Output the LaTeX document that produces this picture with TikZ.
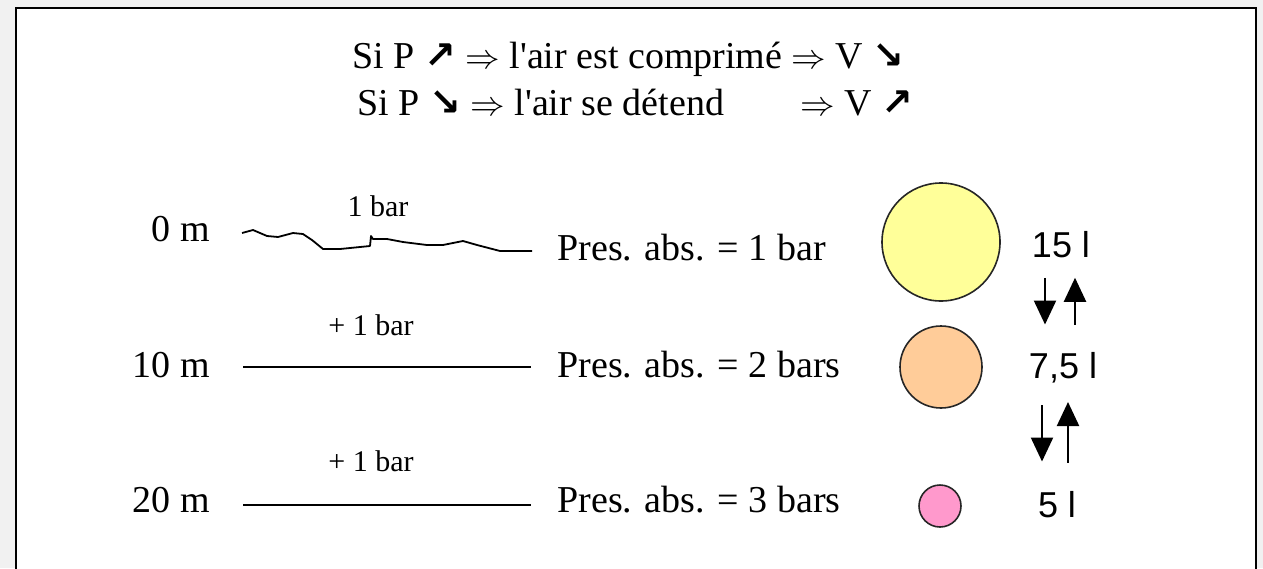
\documentclass[tikz,border=0pt]{standalone}
\usepackage{fontspec}
\setmainfont{Liberation Serif}
\setsansfont{Liberation Sans}
\newfontfamily\arrowfont{DejaVu Sans}
\usepackage{tikz}
\usetikzlibrary{arrows.meta, calc}

\definecolor{pagegray}{HTML}{F1F1F1}
\definecolor{bubyellow}{HTML}{FFFF99}
\definecolor{buborange}{HTML}{FFCC99}
\definecolor{bubpink}{HTML}{FF99CC}

\newcommand{\up}{{\arrowfont\bfseries ↗}}
\newcommand{\down}{{\arrowfont\bfseries ↘}}
\newcommand{\lair}{l\textquotesingle air}

\begin{document}
\begin{tikzpicture}[
  x=0.5pt, y=-0.5pt,
  txt/.style={inner sep=0pt, font=\fontsize{19}{23}\selectfont},
  small/.style={inner sep=0pt, font=\fontsize{15}{18}\selectfont},
  vol/.style={inner sep=0pt, font=\sffamily\fontsize{18}{21}\selectfont, anchor=base},
  bubble/.style={circle, draw=black!85, line width=0.8pt, inner sep=0pt},
  level/.style={line width=0.9pt},
  volarr/.style={-{Triangle[length=12pt, width=11pt]}, line width=1.1pt}
]
\useasboundingbox (0,0) rectangle (1263,568);
\fill[pagegray] (0,0) rectangle (1263,568);
\draw[fill=white, line width=1pt] (16,8) rectangle (1256,590);

% title
\node[txt, anchor=base west] (rule1) at (352,68) {Si P \up{} $\Rightarrow$ \lair{} est comprimé $\Rightarrow$ V \down};
\node[txt, anchor=base west] (rule2) at (357,115) {Si P \down{} $\Rightarrow$ \lair{} se détend};
\node[txt, anchor=base west] (rule2b) at (800,115) {$\Rightarrow$ V \up};

% depths
\node[txt, anchor=base east] (d0) at (210,241) {0 m};
\node[txt, anchor=base east] (d10) at (210,377) {10 m};
\node[txt, anchor=base east] (d20) at (210,512) {20 m};

\node[small, anchor=base] (b0) at (378,216) {1 bar};
\node[small, anchor=base] (b10) at (371,335) {+ 1 bar};
\node[small, anchor=base] (b20) at (371,471) {+ 1 bar};

\draw[level, line join=round] (242,233) -- (253,230) -- (267,236) -- (278,237) -- (293,233) -- (303,234)
  -- (312,240) -- (323,249) -- (340,249) -- (370,246) -- (371,236) -- (373,239)
  -- (387,239) -- (403,242) -- (427,245) -- (443,245) -- (463,241) -- (477,245)
  -- (500,251) -- (532,251);
\draw[level] (243,367) -- (531,367);
\draw[level] (243,505) -- (531,505);

\node[txt, anchor=base west] (p1) at (557,260) {Pres. abs. = 1 bar};
\node[txt, anchor=base west] (p2) at (557,377) {Pres. abs. = 2 bars};
\node[txt, anchor=base west] (p3) at (557,512) {Pres. abs. = 3 bars};

% bubbles
\node[bubble, fill=bubyellow, minimum size=59pt] (c15) at (941,242) {};
\node[bubble, fill=buborange, minimum size=41pt] (c75) at (941,367) {};
\node[bubble, fill=bubpink, minimum size=21pt] (c5) at (940,506) {};

\node[vol] (v15) at (1061,257) {15 l};
\node[vol] (v75) at (1063,378) {7,5 l};
\node[vol] (v5) at (1057,517) {5 l};

\draw[volarr] ([shift={(-16,20)}]v15.south) -- ([shift={(-18,-27)}]v75.north);
\draw[volarr] ([shift={(12,-27)}]v75.north) -- ([shift={(14,20)}]v15.south);
\draw[volarr] ([shift={(-21,22)}]v75.south) -- ([shift={(-15,-29)}]v5.north);
\draw[volarr] ([shift={(11,-28)}]v5.north) -- ([shift={(5,19)}]v75.south);
\end{tikzpicture}
\end{document}
